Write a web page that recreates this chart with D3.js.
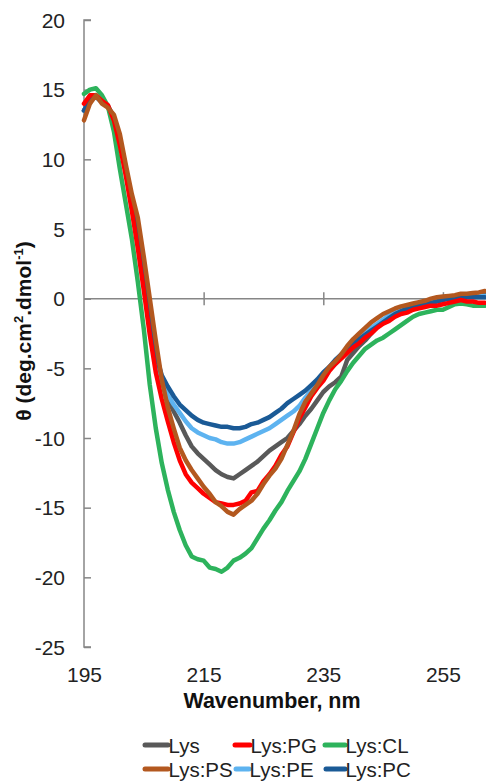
<!DOCTYPE html>
<html><head><meta charset="utf-8">
<script src="https://cdn.jsdelivr.net/npm/d3@7/dist/d3.min.js"></script>
<style>html,body{margin:0;padding:0;background:#fff;}svg{display:block;font-family:Arial,"Liberation Sans",sans-serif;}</style>
</head><body>
<svg id="chart" width="486" height="783"></svg>
<script>
const wavelengths = [195,196,197,198,199,200,201,202,203,204,205,206,207,208,209,210,211,212,213,214,215,216,217,218,219,220,221,222,223,224,225,226,227,228,229,230,231,232,233,234,235,236,237,238,239,240,241,242,243,244,245,246,247,248,249,250,251,252,253,254,255,256,257,258,259,260,261,262];

const lys = [13.5,14.3,14.5,14.1,13.8,13.0,11.4,9.2,6.9,4.4,1.7,
 -1.3,-4.2,-6.0,-7.1,-8.1,-8.9,-9.8,-10.6,-11.1,-11.5,
 -11.9,-12.3,-12.6,-12.8,-12.9,-12.6,-12.3,-12.0,-11.7,-11.3,
 -10.9,-10.6,-10.3,-10.0,-9.5,-9.0,-8.4,-7.9,-7.3,-6.7,
 -6.3,-6.0,-5.6,-4.4,-3.9,-3.4,-3.0,-2.5,-2.0,-1.6,
 -1.3,-1.0,-0.8,-0.6,-0.5,-0.4,-0.3,-0.2,-0.1,0.0,
 0.05,0.1,0.15,0.2,0.25,0.3,0.35];
const lysPG = [14.0,14.6,14.6,14.2,13.9,12.8,11.0,8.8,6.3,3.6,0.6,
 -2.6,-5.3,-7.2,-8.8,-10.3,-11.6,-12.6,-13.2,-13.6,-14.0,
 -14.3,-14.6,-14.7,-14.8,-14.8,-14.7,-14.5,-13.9,-13.8,-13.1,
 -12.6,-12.0,-11.2,-10.6,-9.6,-8.6,-7.8,-7.0,-6.4,-5.9,
 -5.2,-4.7,-4.3,-3.9,-3.5,-3.2,-2.8,-2.5,-2.1,-1.8,
 -1.6,-1.3,-1.1,-1.0,-0.8,-0.7,-0.6,-0.5,-0.5,-0.4,
 -0.3,-0.2,-0.1,-0.2,-0.2,-0.3,-0.3];
const lysCL = [14.7,15.0,15.1,14.6,13.8,12.0,9.3,6.8,4.3,1.2,-2.2,
 -6.2,-9.3,-11.8,-13.7,-15.3,-16.6,-17.7,-18.5,-18.7,-18.8,
 -19.3,-19.4,-19.6,-19.3,-18.8,-18.6,-18.3,-17.9,-17.2,-16.5,
 -15.9,-15.2,-14.6,-13.8,-13.1,-12.4,-11.5,-10.4,-9.3,-8.2,
 -7.3,-6.5,-5.9,-5.2,-4.6,-4.1,-3.6,-3.3,-3.0,-2.8,
 -2.5,-2.2,-1.9,-1.6,-1.3,-1.1,-1.0,-0.9,-0.8,-0.8,
 -0.6,-0.4,-0.35,-0.4,-0.5,-0.5,-0.5];
const lysPS = [12.8,14.0,14.6,14.0,13.7,13.2,11.8,9.6,7.5,5.8,3.0,
 0.0,-3.0,-5.8,-7.8,-9.3,-10.7,-11.6,-12.3,-12.9,-13.5,
 -14.0,-14.6,-14.9,-15.3,-15.5,-15.1,-14.8,-14.5,-14.0,-13.3,
 -12.7,-12.2,-11.5,-10.5,-9.5,-8.3,-7.4,-6.8,-6.2,-5.5,
 -4.9,-4.5,-4.0,-3.4,-2.9,-2.5,-2.1,-1.7,-1.4,-1.1,
 -0.9,-0.7,-0.55,-0.45,-0.35,-0.25,-0.15,0.0,0.1,0.15,
 0.2,0.25,0.35,0.35,0.4,0.45,0.55];
const lysPE = [13.5,14.3,14.5,14.1,13.8,13.0,11.4,9.2,6.9,4.4,1.7,
 -1.3,-4.0,-5.8,-6.9,-7.6,-8.2,-8.8,-9.3,-9.6,-9.8,
 -10.0,-10.1,-10.3,-10.4,-10.4,-10.3,-10.1,-9.9,-9.7,-9.5,
 -9.3,-9.0,-8.7,-8.4,-8.1,-7.7,-7.1,-6.6,-6.1,-5.6,
 -5.1,-4.7,-4.2,-3.7,-3.3,-2.9,-2.5,-2.1,-1.8,-1.5,
 -1.2,-1.0,-0.8,-0.6,-0.5,-0.4,-0.3,-0.2,-0.1,-0.05,
 0.0,0.05,0.1,0.1,0.15,0.2,0.2];
const lysPC = [13.5,14.3,14.5,14.1,13.8,13.0,11.4,9.2,6.9,4.4,1.7,
 -1.3,-4.0,-5.5,-6.3,-7.0,-7.6,-8.0,-8.4,-8.7,-8.9,
 -9.0,-9.1,-9.2,-9.2,-9.3,-9.3,-9.2,-9.0,-8.9,-8.7,
 -8.5,-8.2,-7.9,-7.5,-7.2,-6.9,-6.6,-6.2,-5.8,-5.3,
 -4.9,-4.4,-4.0,-3.6,-3.2,-2.9,-2.6,-2.3,-2.0,-1.7,
 -1.4,-1.1,-0.9,-0.7,-0.6,-0.5,-0.4,-0.3,-0.2,-0.1,
 0.0,0.0,0.1,0.1,0.1,0.1,0.1];

const seriesNames = ["Lys","Lys:PG","Lys:CL","Lys:PS","Lys:PE","Lys:PC"];
const seriesColors = ["#595959","#ff0000","#2db35c","#b3581f","#5db3f0","#1a5a96"];
const seriesValues = [lys, lysPG, lysCL, lysPS, lysPE, lysPC];
const drawOrder = [0,4,5,2,1,3];

const xTicks = [195,215,235,255];
const yTicks = [20,15,10,5,0,-5,-10,-15,-20,-25];

const svg = d3.select("#chart");
const x = d3.scaleLinear().domain([195, 262.2]).range([84, 486]);
const y = d3.scaleLinear().domain([-25, 20]).range([647, 20]);
const axisColor = "#868686";

// y axis with inward ticks
const yAxis = svg.append("g").attr("transform", `translate(${x(195)},0)`)
  .call(d3.axisRight(y).tickValues(yTicks).tickSize(7).tickFormat(""));
yAxis.select(".domain").attr("stroke", axisColor).attr("stroke-width", 1.5).attr("d", `M7,${y(20)}H0V${y(-25)}H7`);
yAxis.selectAll(".tick line").attr("stroke", axisColor).attr("stroke-width", 1.5);

svg.append("g").selectAll("text").data(yTicks).join("text")
  .attr("x", 65).attr("y", d => y(d)).attr("dy", "0.36em")
  .attr("text-anchor", "end").attr("font-size", 21).attr("fill", "#222")
  .text(d => d);

// zero line (x axis) with crossing ticks
const xAxis = svg.append("g").attr("transform", `translate(0,${y(0)})`)
  .call(d3.axisBottom(x).tickValues(xTicks.slice(1)).tickSize(0).tickFormat(""));
xAxis.select(".domain").attr("stroke", axisColor).attr("stroke-width", 1.5).attr("d", `M${x(195)},0H486`);
xAxis.selectAll(".tick line").attr("stroke", axisColor).attr("stroke-width", 1.5).attr("y1", -6.5).attr("y2", 6.5);

svg.append("g").selectAll("text").data(xTicks).join("text")
  .attr("x", d => x(d) + 0.5).attr("y", 682)
  .attr("text-anchor", "middle").attr("font-size", 21).attr("fill", "#222")
  .text(d => d);

// titles
svg.append("text").attr("x", 272).attr("y", 708).attr("text-anchor", "middle")
  .attr("font-size", 21.5).attr("font-weight", "bold").attr("fill", "#111")
  .text("Wavenumber, nm");

const yt = svg.append("text").attr("transform", "translate(31,331) rotate(-90)")
  .attr("text-anchor", "middle").attr("font-size", 21).attr("font-weight", "bold").attr("fill", "#111");
yt.append("tspan").text("θ (deg.cm");
yt.append("tspan").attr("font-size", 13).attr("dy", -8).text("2");
yt.append("tspan").attr("dy", 8).text(".dmol");
yt.append("tspan").attr("font-size", 13).attr("dy", -8).text("-1");
yt.append("tspan").attr("dy", 8).text(")");

// lines
const line = d3.line().x((d, i) => x(wavelengths[i])).y(d => y(d)).curve(d3.curveLinear);
svg.append("g").selectAll("path").data(drawOrder).join("path")
  .attr("d", k => line(seriesValues[k]))
  .attr("fill", "none").attr("stroke", k => seriesColors[k])
  .attr("stroke-width", 4.5).attr("stroke-linejoin", "round").attr("stroke-linecap", "round");

// legend
const legX = [[145,168],[235,250],[325,345],[145,168],[236,249],[326,345]];
const legY = [745,745,745,769,769,769];
const leg = svg.append("g").selectAll("g").data(seriesNames).join("g");
leg.append("line").attr("x1", (d,i) => legX[i][0]).attr("x2", (d,i) => legX[i][1])
  .attr("y1", (d,i) => legY[i]).attr("y2", (d,i) => legY[i])
  .attr("stroke", (d,i) => seriesColors[i]).attr("stroke-width", 5).attr("stroke-linecap", "round");
leg.append("text").attr("x", (d,i) => legX[i][1] + 0.5).attr("y", (d,i) => legY[i] + 7.5)
  .attr("font-size", 20.5).attr("fill", "#222").text(d => d);
</script>
</body></html>
